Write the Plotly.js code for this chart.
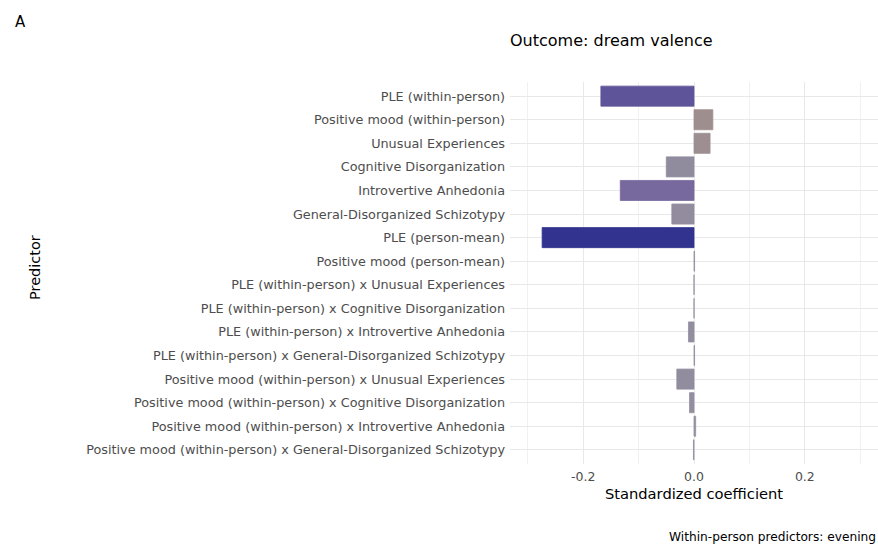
<!DOCTYPE html>
<html><head><meta charset="utf-8">
<script src="https://cdn.plot.ly/plotly-3.0.1.min.js"></script>
<style>body{margin:0;background:#fff}#chart{width:878px;height:547px}</style>
</head><body><div id="chart"></div>
<script>
const predictors = [
  "PLE (within-person)",
  "Positive mood (within-person)",
  "Unusual Experiences",
  "Cognitive Disorganization",
  "Introvertive Anhedonia",
  "General-Disorganized Schizotypy",
  "PLE (person-mean)",
  "Positive mood (person-mean)",
  "PLE (within-person) x Unusual Experiences",
  "PLE (within-person) x Cognitive Disorganization",
  "PLE (within-person) x Introvertive Anhedonia",
  "PLE (within-person) x General-Disorganized Schizotypy",
  "Positive mood (within-person) x Unusual Experiences",
  "Positive mood (within-person) x Cognitive Disorganization",
  "Positive mood (within-person) x Introvertive Anhedonia",
  "Positive mood (within-person) x General-Disorganized Schizotypy"
];
const coefficients = [-0.168, 0.034, 0.029, -0.050, -0.133, -0.040, -0.274, 0.001,
  0.0, 0.0, -0.010, 0.001, -0.031, -0.008, 0.003, -0.001];
const xTickVals = [-0.2, 0.0, 0.2];
const xTickText = ["-0.2", "0.0", "0.2"];

const cscale = [[0, '#2a2e8e'], [0.21, '#5e5499'], [0.27, '#77689d'], [0.41, '#918b9e'],
                [0.5, '#948f9f'], [1, '#f08a10']];

const FONT = '"DejaVu Sans", Verdana, sans-serif';

const trace = {
  type: 'bar', orientation: 'h',
  x: coefficients, y: predictors,
  width: 0.85,
  marker: {
    color: coefficients, colorscale: cscale, cmin: -0.29, cmax: 0.29, showscale: false,
    line: {color: coefficients, colorscale: cscale, cmin: -0.29, cmax: 0.29, width: 0.8}
  },
  hoverinfo: 'x+y'
};

const layout = {
  width: 878, height: 547,
  margin: {l: 510, r: 0, t: 82, b: 83},
  paper_bgcolor: '#fff', plot_bgcolor: '#fff',
  font: {family: FONT, color: '#4d4d4d'},
  showlegend: false,
  title: {text: 'Outcome: dream valence', x: 0, xref: 'paper', xanchor: 'left',
          y: 1 - 40/547, yref: 'container', yanchor: 'middle',
          font: {size: 16, color: '#000'}},
  xaxis: {
    range: [-0.332, 0.332],
    tickvals: xTickVals, ticktext: xTickText,
    showgrid: true, gridcolor: '#e8e8e8', gridwidth: 1,
    minor: {dtick: 0.1, tick0: 0.1, showgrid: true, gridcolor: '#f1f1f1', gridwidth: 1},
    zeroline: false, showline: false, ticks: '', ticklabelstandoff: 3,
    tickfont: {size: 12.5, color: '#4d4d4d'},
    title: {text: 'Standardized coefficient', font: {size: 14.7, color: '#000'}, standoff: 6}
  },
  yaxis: {
    type: 'category', categoryorder: 'array', categoryarray: predictors,
    range: [15.6, -0.6],
    showgrid: true, gridcolor: '#e8e8e8', gridwidth: 1,
    zeroline: false, showline: false, ticks: '', ticklabelstandoff: 4,
    tickfont: {size: 12.8, color: '#4d4d4d'}
  },
  annotations: [
    {text: 'A', xref: 'paper', yref: 'paper', x: (13-510)/368, y: 1 + (82-22)/382,
     xanchor: 'left', yanchor: 'middle', showarrow: false, font: {size: 15, color: '#000'}},
    {text: 'Predictor', xref: 'paper', yref: 'paper', x: (35-510)/368, y: 1 - (268-82)/382,
     xanchor: 'center', yanchor: 'middle', textangle: -90, showarrow: false, font: {size: 14.5, color: '#000'}},
    {text: 'Within-person predictors: evening', xref: 'paper', yref: 'paper', x: 1, y: -(537-464)/382,
     xanchor: 'right', yanchor: 'middle', showarrow: false, font: {size: 12.2, color: '#000'}}
  ]
};

Plotly.newPlot('chart', [trace], layout, {displayModeBar: false, staticPlot: true});
</script></body></html>
